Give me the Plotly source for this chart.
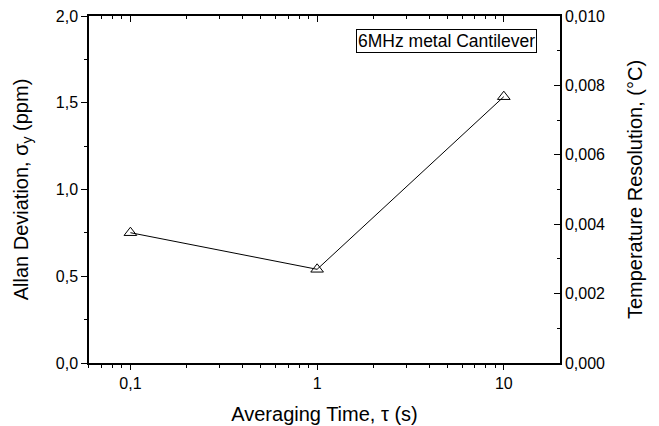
import plotly.graph_objects as go

# Data
tau = [0.1, 1, 10]
allan_dev = [0.751, 0.54, 1.535]

x_tickvals = [0.1, 1, 10]
x_ticktext = ["0,1", "1", "10"]
x_minor_vals = [0.06, 0.07, 0.08, 0.09, 0.2, 0.3, 0.4, 0.5, 0.6, 0.7, 0.8, 0.9,
                2, 3, 4, 5, 6, 7, 8, 9]

FONT = "Liberation Sans, Arial, sans-serif"
xr = [-1.2218, 1.301]

fig = go.Figure()
fig.add_trace(go.Scatter(
    x=tau, y=allan_dev, mode="lines+markers",
    line=dict(color="black", width=1),
    marker=dict(symbol="triangle-up-open", size=11, color="black", line=dict(width=1)),
    showlegend=False, hoverinfo="skip"))
# empty trace so the mirrored top and right axes are drawn
fig.add_trace(go.Scatter(x=[], y=[], xaxis="x2", yaxis="y2",
                         showlegend=False, hoverinfo="skip"))

fig.update_layout(
    width=651, height=418,
    margin=dict(l=81, r=99, t=8, b=63),
    plot_bgcolor="white", paper_bgcolor="white",
    separators=", ",
    font=dict(family=FONT, size=16, color="black"),
    xaxis=dict(
        type="log", range=xr, showgrid=False, zeroline=False, automargin=False,
        showline=True, linecolor="black", linewidth=1.5,
        ticks="outside", ticklen=5, tickwidth=1, tickcolor="black",
        tickmode="array", tickvals=x_tickvals, ticktext=x_ticktext,
        minor=dict(ticks="outside", ticklen=3, tickwidth=1, tickcolor="black",
                   tickmode="array", tickvals=x_minor_vals),
        title=dict(text="Averaging Time, τ (s)", font=dict(size=20), standoff=16),
        tickfont=dict(size=16),
    ),
    xaxis2=dict(
        type="log", range=xr, overlaying="x", side="top", anchor="y2", automargin=False,
        showgrid=False, zeroline=False, showline=True, linecolor="black", linewidth=1.5,
        ticks="inside", ticklen=6, tickwidth=1, tickcolor="black",
        tickmode="array", tickvals=x_tickvals, showticklabels=False,
        minor=dict(ticks="inside", ticklen=3, tickwidth=1, tickcolor="black",
                   tickmode="array", tickvals=x_minor_vals),
    ),
    yaxis=dict(
        range=[0, 2.0], showgrid=False, zeroline=False, automargin=False,
        showline=True, linecolor="black", linewidth=1.5,
        ticks="outside", ticklen=6, tickwidth=1, tickcolor="black",
        tick0=0, dtick=0.5, tickformat=".1f", ticklabeloverflow="allow",
        minor=dict(ticks="outside", ticklen=3, tickwidth=1, tickcolor="black", dtick=0.25),
        title=dict(text="Allan Deviation, σ<sub>y</sub> (ppm)", font=dict(size=20), standoff=22),
        tickfont=dict(size=16),
    ),
    yaxis2=dict(
        range=[0, 0.010], overlaying="y", side="right", anchor="x2", automargin=False,
        showgrid=False, zeroline=False,
        showline=True, linecolor="black", linewidth=1.5,
        ticks="inside", ticklen=6, tickwidth=1, tickcolor="black",
        tick0=0, dtick=0.002, tickformat=".3f", ticklabeloverflow="allow",
        minor=dict(ticks="inside", ticklen=3, tickwidth=1, tickcolor="black", dtick=0.001),
        title=dict(text="Temperature Resolution, (°C)", font=dict(size=20), standoff=24),
        tickfont=dict(size=16),
    ),
    annotations=[dict(
        text="6MHz metal Cantilever", xref="paper", yref="paper",
        x=0.952, y=0.962, xanchor="right", yanchor="top", showarrow=False,
        font=dict(size=17.5, family=FONT, color="black"),
        bordercolor="black", borderwidth=1, borderpad=1, bgcolor="white")],
)

fig.write_html("out.html")
